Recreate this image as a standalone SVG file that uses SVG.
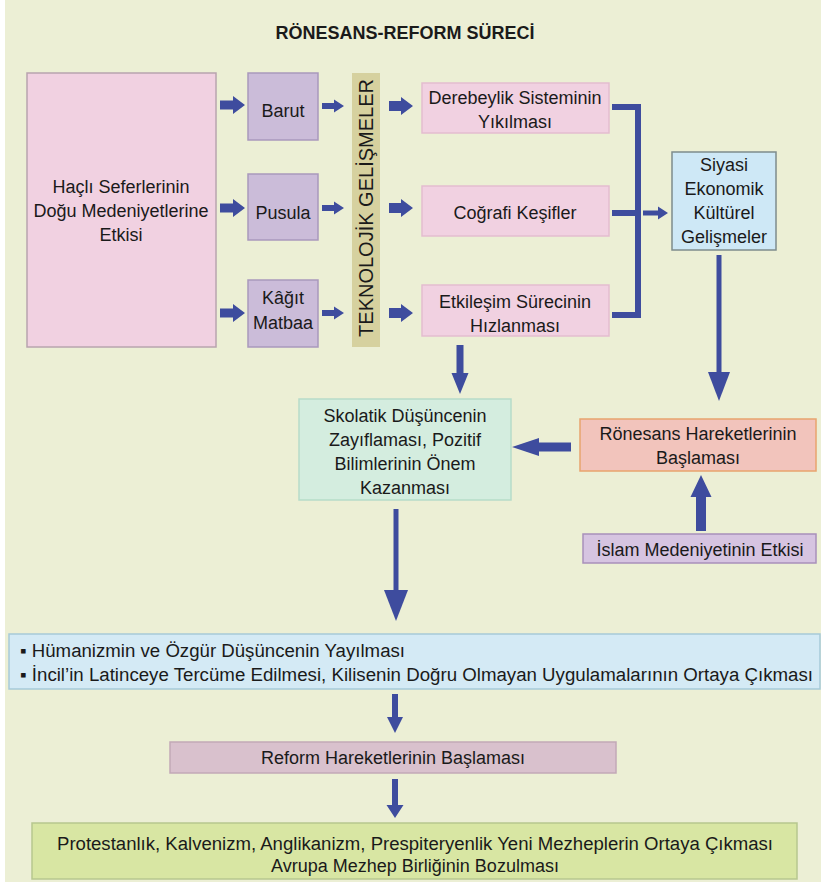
<svg xmlns="http://www.w3.org/2000/svg" width="821" height="886" viewBox="0 0 821 886">
<style>
text{font-family:"Liberation Sans",Arial,sans-serif;font-size:18px;fill:#1a1a1a;text-anchor:middle}
.title{font-weight:bold;font-size:18px}
.pink{fill:#F1D1E1;stroke:#E3BDCF;stroke-width:1.5}
.purple{fill:#CBBCD9;stroke:#A999BC;stroke-width:1.5}
.arr{fill:#3E4C9E}
.ln{stroke:#3E4C9E;fill:none}
</style>
<rect x="0" y="0" width="821" height="886" fill="#ffffff"/>
<rect x="5" y="0" width="816" height="882" fill="#ECEFD5"/>
<text class="title" x="405" y="39">RÖNESANS-REFORM SÜRECİ</text>

<g id="hacli">
<rect x="27" y="73" width="189" height="274" fill="#F1D1E1" stroke="#B8A4AE" stroke-width="1.5"/>
<text x="121" y="193">Haçlı Seferlerinin</text>
<text x="121" y="217">Doğu Medeniyetlerine</text>
<text x="121" y="241">Etkisi</text>
</g>
<g id="barut">
<rect class="purple" x="248" y="73" width="70" height="67"/>
<text x="283" y="117">Barut</text>
</g>
<g id="pusula">
<rect class="purple" x="248" y="174" width="70" height="66"/>
<text x="283" y="219">Pusula</text>
</g>
<g id="kagit">
<rect class="purple" x="248" y="280" width="70" height="67"/>
<text x="283" y="304">Kâğıt</text>
<text x="283" y="329">Matbaa</text>
</g>
<g id="teknoloji">
<rect x="352" y="73" width="28" height="274" fill="#D6D19F"/>
<text x="0" y="0" font-size="20" style="font-size:20px" transform="translate(373,208) rotate(-90)">TEKNOLOJİK GELİŞMELER</text>
</g>
<g id="derebeylik">
<rect class="pink" x="422" y="83" width="187" height="50"/>
<text x="515" y="104">Derebeylik Sisteminin</text>
<text x="515" y="128">Yıkılması</text>
</g>
<g id="cografi">
<rect class="pink" x="422" y="186" width="187" height="50"/>
<text x="515" y="219">Coğrafi Keşifler</text>
</g>
<g id="etkilesim">
<rect class="pink" x="422" y="285" width="187" height="51"/>
<text x="515" y="308">Etkileşim Sürecinin</text>
<text x="515" y="332">Hızlanması</text>
</g>
<g id="siyasi">
<rect x="672" y="152" width="104" height="98" fill="#CEE8F6" stroke="#7E8C8C" stroke-width="1.5"/>
<text x="724" y="171">Siyasi</text>
<text x="724" y="195">Ekonomik</text>
<text x="724" y="219">Kültürel</text>
<text x="724" y="243">Gelişmeler</text>
</g>
<g id="ronesans">
<rect x="580" y="419" width="236" height="52" fill="#F2C4BC" stroke="#E8A46E" stroke-width="1.5"/>
<text x="698" y="440">Rönesans Hareketlerinin</text>
<text x="698" y="464">Başlaması</text>
</g>
<g id="skolatik">
<rect x="299" y="399" width="212" height="101" fill="#D4EDDF" stroke="#B6DCC9" stroke-width="1.5"/>
<text x="405" y="422">Skolatik Düşüncenin</text>
<text x="405" y="446">Zayıflaması, Pozitif</text>
<text x="405" y="470">Bilimlerinin Önem</text>
<text x="405" y="494">Kazanması</text>
</g>
<g id="islam">
<rect x="583" y="534" width="233" height="29" fill="#D6C4E1" stroke="#A890BA" stroke-width="1.5"/>
<text x="700" y="556">İslam Medeniyetinin Etkisi</text>
</g>
<g id="humanizm">
<rect x="9" y="634" width="811" height="55" fill="#D4EAF5" stroke="#A6CAD8" stroke-width="1.5"/>
<text x="20" y="657" style="text-anchor:start" textLength="385" lengthAdjust="spacingAndGlyphs">▪ Hümanizmin ve Özgür Düşüncenin Yayılması</text>
<text x="20" y="681" style="text-anchor:start" textLength="793" lengthAdjust="spacingAndGlyphs">▪ İncil’in Latinceye Tercüme Edilmesi, Kilisenin Doğru Olmayan Uygulamalarının Ortaya Çıkması</text>
</g>
<g id="reform">
<rect x="170" y="742" width="446" height="31" fill="#D9C1CD" stroke="#C2A9B7" stroke-width="1.5"/>
<text x="393" y="764">Reform Hareketlerinin Başlaması</text>
</g>
<g id="protestan">
<rect x="32" y="823" width="765" height="56" fill="#D8E6A3" stroke="#B7C78F" stroke-width="1.5"/>
<text x="415" y="850" textLength="716" lengthAdjust="spacingAndGlyphs">Protestanlık, Kalvenizm, Anglikanizm, Prespiteryenlik Yeni Mezheplerin Ortaya Çıkması</text>
<text x="415" y="872">Avrupa Mezhep Birliğinin Bozulması</text>
</g>

<g id="connectors">
<polygon class="arr" points="220,100.5 233,100.5 233,96 245,105 233,114 233,109.5 220,109.5"/>
<polygon class="arr" points="220,203.5 233,203.5 233,199 245,208 233,217 233,212.5 220,212.5"/>
<polygon class="arr" points="220,308.5 233,308.5 233,304 245,313 233,322 233,317.5 220,317.5"/>
<polygon class="arr" points="322,103 334,103 334,99.5 344,106 334,112.5 334,109 322,109"/>
<polygon class="arr" points="322,205 334,205 334,201.5 344,208 334,214.5 334,211 322,211"/>
<polygon class="arr" points="322,310 334,310 334,306.5 344,313 334,319.5 334,316 322,316"/>
<polygon class="arr" points="389,101 401,101 401,97 413,106 401,115 401,111 389,111"/>
<polygon class="arr" points="389,203 401,203 401,199 413,208 401,217 401,213 389,213"/>
<polygon class="arr" points="389,308 401,308 401,304 413,313 401,322 401,318 389,318"/>
<path class="ln" d="M612,107 H638 V315 H612 M612,213 H638" stroke-width="6"/>
<polygon class="arr" points="643,210.5 658,210.5 658,206.5 668,213 658,219.5 658,215.5 643,215.5"/>
<line class="ln" x1="719" y1="255" x2="719" y2="374" stroke-width="5"/>
<polygon class="arr" points="708,372 730,372 719,401"/>
<polygon class="arr" points="456.5,345 463.5,345 463.5,373 468.5,373 460,394 451.5,373 456.5,373"/>
<polygon class="arr" points="571,442.5 539,442.5 539,438 512,447 539,456 539,451.5 571,451.5"/>
<polygon class="arr" points="696,531 706,531 706,497 711.5,497 701,475 690.5,497 696,497"/>
<line class="ln" x1="396" y1="509" x2="396" y2="592" stroke-width="5"/>
<polygon class="arr" points="384,590 408,590 396,621"/>
<polygon class="arr" points="392,694 398,694 398,717 403,717 395,733 387,717 392,717"/>
<polygon class="arr" points="392,779 398,779 398,805 403.5,805 395,818 386.5,805 392,805"/>
</g>
</svg>
